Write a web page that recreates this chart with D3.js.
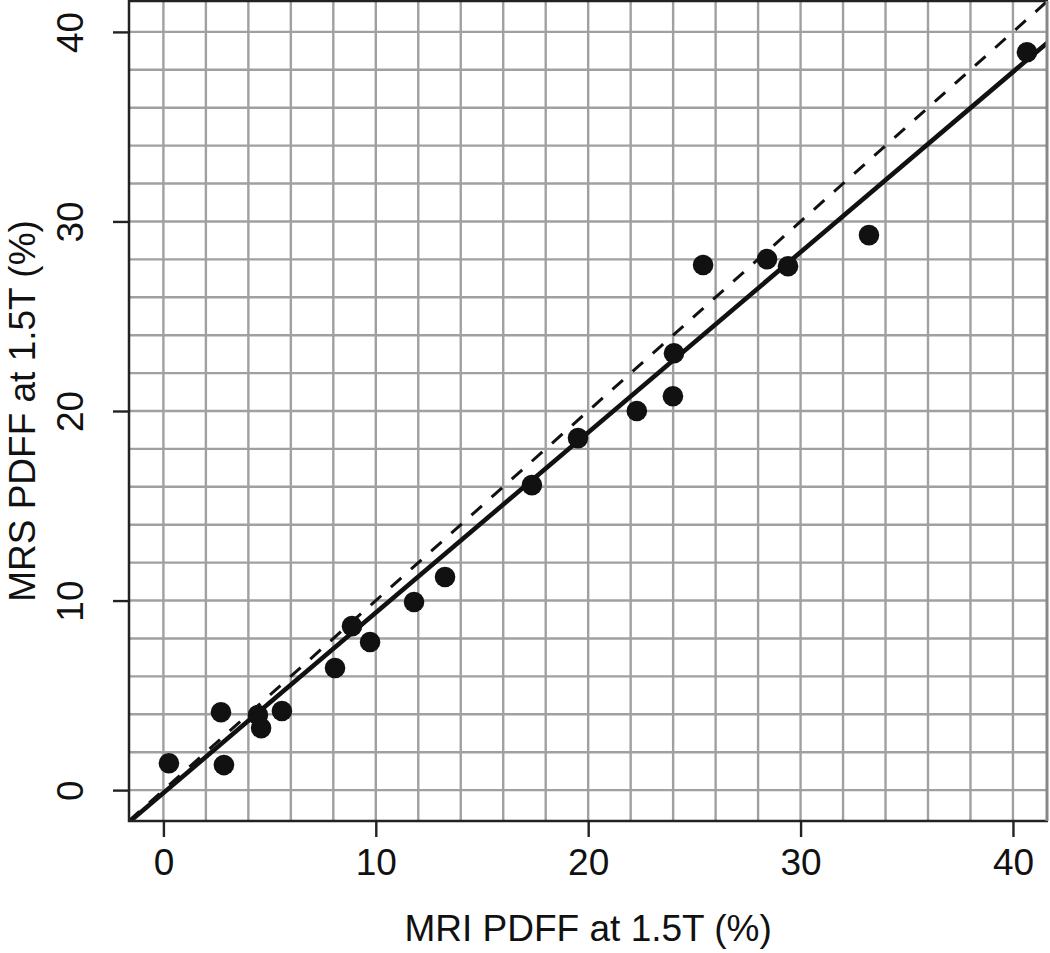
<!DOCTYPE html>
<html lang="en">
<head>
    <meta charset="UTF-8">
    <title>MRS vs MRI PDFF</title>
    <script src="https://d3js.org/d3.v7.min.js"></script>
    <style>
        body { margin: 0; background: #fff; }
        text { font-family: "Liberation Sans", Arial, sans-serif; fill: #111; }
    </style>
</head>
<body>
    <div id="chart"></div>
    <script>
        // Data
        const mriPdff = [0.26, 2.71, 2.85, 4.45, 4.6, 5.58, 8.08, 8.88, 9.73, 11.8, 13.26,
                         17.35, 19.52, 22.29, 23.99, 24.04, 25.41, 28.42, 29.41, 33.22, 40.66];
        const mrsPdff = [1.42, 4.11, 1.32, 3.96, 3.27, 4.17, 6.44, 8.65, 7.81, 9.92, 11.24,
                         16.09, 18.57, 20.0, 20.78, 23.05, 27.7, 28.01, 27.64, 29.28, 38.93];
        const tickValues = [0, 10, 20, 30, 40];
        const gridValues = d3.range(0, 41, 2);
        // regression fit (solid) and identity (dashed)
        const fitSlope = 0.951;
        const fitIntercept = -0.15;

        const width = 1050;
        const height = 953;

        const svg = d3.select("#chart")
            .append("svg")
            .attr("width", width)
            .attr("height", height);

        const x = d3.scaleLinear().domain([-1.62, 41.65]).range([129, 1048]);
        const y = d3.scaleLinear().domain([-1.63, 41.63]).range([821, 1]);

        svg.append("clipPath").attr("id", "plot")
            .append("rect")
            .attr("x", x.range()[0]).attr("y", y.range()[1])
            .attr("width", x.range()[1] - x.range()[0])
            .attr("height", y.range()[0] - y.range()[1]);

        // grid
        const grid = svg.append("g").attr("stroke", "#a0a0a0").attr("stroke-width", 2.4);
        grid.selectAll(".gx").data(gridValues).enter().append("line")
            .attr("x1", d => x(d)).attr("x2", d => x(d))
            .attr("y1", y.range()[0]).attr("y2", y.range()[1]);
        grid.selectAll(".gy").data(gridValues).enter().append("line")
            .attr("y1", d => y(d)).attr("y2", d => y(d))
            .attr("x1", x.range()[0]).attr("x2", x.range()[1]);

        const plot = svg.append("g").attr("clip-path", "url(#plot)");
        const dom = x.domain();

        // identity line
        plot.append("path")
            .datum(dom.map(v => [v, v]))
            .attr("d", d3.line().x(d => x(d[0])).y(d => y(d[1])))
            .attr("fill", "none")
            .attr("stroke", "#111")
            .attr("stroke-width", 3)
            .attr("stroke-dasharray", "14,13");

        // fitted line
        plot.append("path")
            .datum(dom.map(v => [v, fitIntercept + fitSlope * v]))
            .attr("d", d3.line().x(d => x(d[0])).y(d => y(d[1])))
            .attr("fill", "none")
            .attr("stroke", "#111")
            .attr("stroke-width", 4.6);

        // points
        plot.selectAll("circle")
            .data(mriPdff.map((v, i) => [v, mrsPdff[i]]))
            .enter().append("circle")
            .attr("cx", d => x(d[0]))
            .attr("cy", d => y(d[1]))
            .attr("r", 10.3)
            .attr("fill", "#111");

        // box
        const [x0, x1] = x.range();
        const [y0, y1] = y.range();
        svg.append("path")
            .attr("d", `M${x1},${y1}H${x0}V${y0}H${x1}`)
            .attr("fill", "none").attr("stroke", "#222").attr("stroke-width", 2.5);
        svg.append("line")
            .attr("x1", x1 - 1).attr("x2", x1 - 1).attr("y1", y1).attr("y2", y0)
            .attr("stroke", "#888").attr("stroke-width", 3);

        // axes
        const xAxis = svg.append("g")
            .attr("transform", `translate(0,${y0})`)
            .call(d3.axisBottom(x).tickValues(tickValues).tickSize(16).tickPadding(12));
        const yAxis = svg.append("g")
            .attr("transform", `translate(${x0},0)`)
            .call(d3.axisLeft(y).tickValues(tickValues).tickSize(16).tickPadding(12));

        [xAxis, yAxis].forEach(a => {
            a.select(".domain").remove();
            a.selectAll(".tick line").attr("stroke", "#222").attr("stroke-width", 2.4);
            a.selectAll(".tick text")
                .style("font-family", "'Liberation Sans', Arial, sans-serif")
                .style("font-size", "37px")
                .attr("fill", "#111");
        });
        yAxis.selectAll(".tick text")
            .attr("transform", "rotate(-90)")
            .attr("x", 0)
            .attr("y", -46)
            .attr("dy", "0")
            .attr("text-anchor", "middle");

        // axis titles
        svg.append("text")
            .attr("x", x(20))
            .attr("y", 941)
            .attr("text-anchor", "middle")
            .style("font-size", "37px")
            .text("MRI PDFF at 1.5T (%)");
        svg.append("text")
            .attr("transform", `translate(35,${y(20)}) rotate(-90)`)
            .attr("text-anchor", "middle")
            .style("font-size", "37px")
            .text("MRS PDFF at 1.5T (%)");
    </script>
</body>
</html>
